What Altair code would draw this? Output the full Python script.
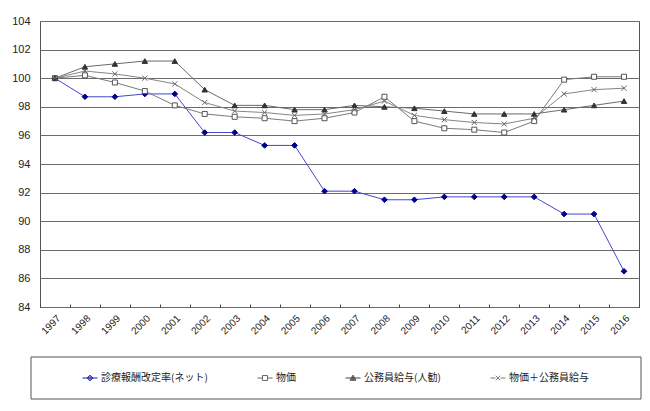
import altair as alt
import pandas as pd

# ---------------- data ----------------
years = [str(y) for y in range(1997, 2017)]
series_names = ["診療報酬改定率(ネット)", "物価", "公務員給与(人勧)", "物価＋公務員給与"]

fee_rate = [100, 98.7, 98.7, 98.9, 98.9, 96.2, 96.2, 95.3, 95.3, 92.1,
            92.1, 91.5, 91.5, 91.7, 91.7, 91.7, 91.7, 90.5, 90.5, 86.5]
prices = [100, 100.2, 99.7, 99.1, 98.1, 97.5, 97.3, 97.2, 97.0, 97.2,
          97.6, 98.7, 97.0, 96.5, 96.4, 96.2, 97.0, 99.9, 100.1, 100.1]
salary = [100, 100.8, 101.0, 101.2, 101.2, 99.2, 98.1, 98.1, 97.8, 97.8,
          98.1, 98.0, 97.9, 97.7, 97.5, 97.5, 97.5, 97.8, 98.1, 98.4]
prices_salary = [100, 100.5, 100.3, 100.0, 99.6, 98.3, 97.7, 97.6, 97.4, 97.5,
                 97.8, 98.4, 97.4, 97.1, 96.9, 96.8, 97.2, 98.9, 99.2, 99.3]

y_ticks = list(range(84, 105, 2))

rows = []
for name, vals in zip(series_names, [fee_rate, prices, salary, prices_salary]):
    for yr, v in zip(years, vals):
        rows.append({"year": yr, "series": name, "value": v})
df = pd.DataFrame(rows)

# ---------------- styles ----------------
line_colors = ["#4646cc", "#7a7a7a", "#6a6a6a", "#858585"]
legend_colors = ["#1c1ca8", "#666666", "#444444", "#777777"]
marker_styles = [
    dict(shape="diamond", size=32, fill="#000088", stroke="#000088"),
    dict(shape="square", size=25, fill="white", stroke="#555555"),
    dict(shape="triangle-up", size=30, fill="#333333", stroke="#333333"),
    dict(shape="M-1,-1L1,1M-1,1L1,-1", size=26, fill="transparent", stroke="#666666"),
]
legend_paths = [
    "M-1,0H1M0,-0.38L0.38,0L0,0.38L-0.38,0ZM0,-0.2L0.2,0L0,0.2L-0.2,0Z",
    "M-1,0H-0.33M0.33,0H1M-0.33,-0.33H0.33V0.33H-0.33Z",
    "M-1,0H1M0,-0.38L0.38,0.3H-0.38ZM0,-0.15L0.18,0.18H-0.18Z",
    "M-1,0H-0.35M0.35,0H1M-0.3,-0.3L0.3,0.3M-0.3,0.3L0.3,-0.3",
]

x_enc = alt.X(
    "year:O",
    scale=alt.Scale(type="band", paddingInner=0, paddingOuter=0),
    axis=alt.Axis(title=None, labelAngle=-45, tickBand="extent", offset=-3,
                  tickSize=3, domain=False, grid=False, labelFontSize=10,
                  labelPadding=6, tickColor="#444444", labelColor="#222222"),
)
y_enc = alt.Y(
    "value:Q",
    scale=alt.Scale(domain=[84, 104], nice=False, zero=False),
    axis=alt.Axis(values=y_ticks, title=None, grid=True, gridColor="#6b6b6b",
                  gridWidth=1, domain=False, ticks=False, tickSize=0,
                  labelPadding=10, labelFontSize=11, labelColor="#222222"),
)

base = alt.Chart(df)

line_layers = []
point_layers = []
for name, col, st in zip(series_names, line_colors, marker_styles):
    sub = base.transform_filter(alt.datum.series == name)
    line_layers.append(
        sub.mark_line(strokeWidth=1, color=col).encode(x=x_enc, y=y_enc)
    )
    point_layers.append(
        sub.mark_point(shape=st["shape"], size=st["size"], fill=st["fill"],
                       stroke=st["stroke"], strokeWidth=1, opacity=1, filled=True)
        .encode(x=x_enc, y=y_enc)
    )

leg = alt.Legend(title=None, orient="none", legendX=42, legendY=349,
                 direction="horizontal", symbolSize=225, symbolStrokeWidth=1,
                 labelFont="Noto Sans CJK JP", labelFontSize=10,
                 labelColor="#222222", labelOffset=3, columnPadding=47,
                 padding=0)

legend_layer = base.transform_filter(alt.datum.value < 0).mark_point(
    filled=False, strokeWidth=1, opacity=1
).encode(
    x=x_enc, y=y_enc,
    color=alt.Color("series:N", scale=alt.Scale(domain=series_names, range=legend_colors), legend=leg),
    shape=alt.Shape("series:N", scale=alt.Scale(domain=series_names, range=legend_paths), legend=leg),
)

frame = alt.Chart(pd.DataFrame({"box": [0]})).mark_rect(
    fillOpacity=0, stroke="#555555", strokeWidth=1
).encode(x=alt.value(-9), x2=alt.value(601), y=alt.value(336), y2=alt.value(378))

chart = alt.layer(*line_layers, *point_layers, legend_layer, frame).properties(
    width=599, height=286,
    autosize=alt.AutoSizeParams(type="none"),
    padding={"left": 32, "top": 13, "right": 3, "bottom": 96},
).configure_view(stroke="#555555", strokeWidth=1).configure_axis(
    labelFont="Liberation Sans"
)

chart.save("out.html", embed_options={"renderer": "svg", "actions": False})
